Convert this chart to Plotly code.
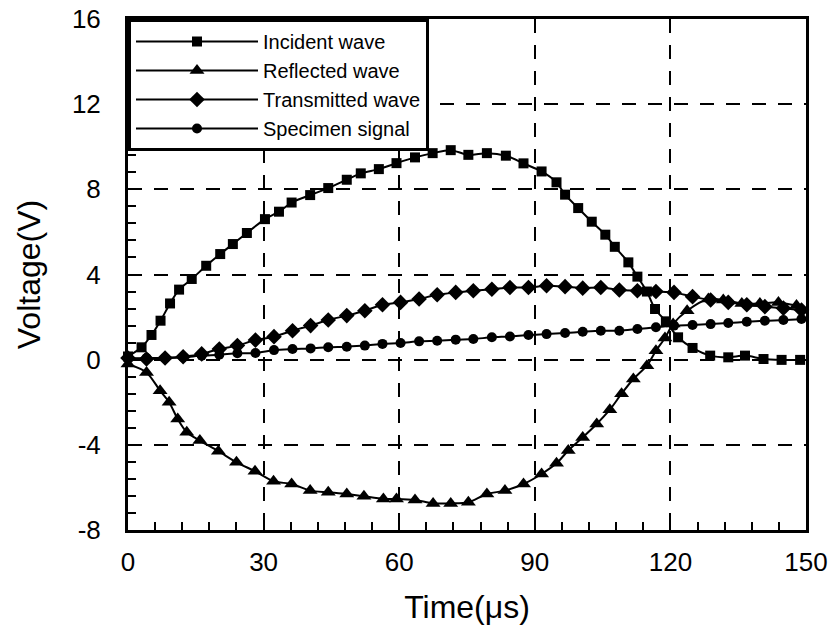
import plotly.graph_objects as go

# Incident wave (squares)
inc_t = [0, 3.0, 5.2, 7.2, 9.3, 11.3, 14.1, 17.3, 20.4, 23.2, 26.3, 30.3, 33.4, 36.2, 40.3,
         44.3, 48.4, 51.5, 55.5, 59.4, 63.5, 67.4, 71.4, 75.3, 79.4, 83.6, 87.5, 91.5, 94.8,
         96.7, 99.6, 102.6, 105.6, 107.7, 110.7, 112.7, 114.8, 116.6, 119.0, 121.7, 124.9,
         128.8, 132.8, 136.5, 140.6, 144.6, 148.7]
inc_v = [0.15, 0.58, 1.16, 1.83, 2.64, 3.29, 3.79, 4.41, 4.96, 5.43, 5.95, 6.6, 6.95, 7.38, 7.73,
         8.06, 8.45, 8.75, 8.95, 9.23, 9.5, 9.7, 9.84, 9.62, 9.7, 9.58, 9.22, 8.84, 8.33,
         7.75, 7.12, 6.48, 5.87, 5.3, 4.57, 3.9, 3.2, 2.38, 1.8, 1.05, 0.55,
         0.19, 0.11, 0.19, 0.03, -0.01, -0.01]

# Reflected wave (triangles)
ref_t = [0, 4.1, 7.1, 9.1, 11.0, 13.0, 15.9, 20.0, 24.0, 28.1, 32.2, 36.2, 40.3, 44.3, 48.4,
         52.2, 56.5, 59.4, 63.5, 67.5, 71.4, 75.3, 79.4, 83.4, 87.5, 91.5, 94.8, 97.4, 100.6,
         103.7, 106.6, 109.2, 111.8, 114.8, 116.8, 118.8, 120.6, 123.7, 128.4, 131.7, 135.8,
         139.8, 143.9, 147.9]
ref_v = [-0.2, -0.6, -1.46, -2.0, -2.79, -3.41, -3.8, -4.3, -4.82, -5.24, -5.71, -5.84, -6.15,
         -6.23, -6.31, -6.42, -6.54, -6.54, -6.59, -6.75, -6.75, -6.7, -6.31, -6.15, -5.84,
         -5.37, -4.87, -4.27, -3.65, -3.02, -2.35, -1.6, -0.91, -0.28, 0.42, 1.02, 1.68,
         2.3, 2.85, 2.8, 2.64, 2.64, 2.69, 2.54]

# Transmitted wave (diamonds) and specimen signal (circles) share sample times
ts_t = [0, 4.1, 8.2, 12.2, 16.3, 20.2, 24.2, 28.2, 32.3, 36.4, 40.4, 44.3, 48.4, 52.4, 56.3,
        60.3, 64.4, 68.4, 72.5, 76.4, 80.5, 84.5, 88.6, 92.6, 96.7, 100.6, 104.6, 108.7,
        112.7, 116.8, 120.8, 124.9, 128.9, 132.8, 136.9, 140.9, 145.0, 149.0]
tra_v = [0.08, 0.03, 0.08, 0.14, 0.27, 0.5, 0.66, 0.92, 1.08, 1.36, 1.6, 1.86, 2.07, 2.3, 2.58,
         2.69, 2.85, 3.05, 3.16, 3.24, 3.31, 3.39, 3.39, 3.47, 3.43, 3.36, 3.39, 3.27,
         3.24, 3.2, 3.16, 2.96, 2.8, 2.69, 2.58, 2.49, 2.42, 2.33]
spe_v = [0.06, 0.08, 0.08, 0.11, 0.19, 0.23, 0.3, 0.31, 0.45, 0.5, 0.53, 0.58, 0.61, 0.66, 0.74,
         0.78, 0.86, 0.89, 0.94, 0.97, 1.05, 1.09, 1.16, 1.2, 1.25, 1.31, 1.36, 1.36,
         1.44, 1.52, 1.6, 1.63, 1.67, 1.72, 1.78, 1.83, 1.86, 1.91]

# Tick labels
x_tickvals = [0, 30, 60, 90, 120, 150]
x_ticktext = ["0", "30", "60", "90", "120", "150"]
y_tickvals = [-8, -4, 0, 4, 8, 12, 16]
y_ticktext = ["-8", "-4", "0", "4", "8", "12", "16"]

series = [
    ("Incident wave", inc_t, inc_v, "square", 10),
    ("Reflected wave", ref_t, ref_v, "triangle-up", 13),
    ("Transmitted wave", ts_t, tra_v, "diamond", 12),
    ("Specimen signal", ts_t, spe_v, "circle", 10),
]

fig = go.Figure()
for name, t, v, sym, sz in series:
    fig.add_trace(go.Scatter(
        x=t, y=v, name=name, mode="lines+markers",
        line=dict(color="black", width=2, shape="spline", smoothing=0.8),
        marker=dict(symbol=sym, size=sz, color="black"),
        cliponaxis=False,
    ))

font_family = "Liberation Sans, Arial, sans-serif"
fig.update_layout(
    width=837, height=634,
    margin=dict(l=128, r=31, t=19, b=104),
    plot_bgcolor="white", paper_bgcolor="white",
    font=dict(family=font_family, color="black", size=26),
    legend=dict(
        x=0, y=1, xanchor="left", yanchor="top",
        bgcolor="white", bordercolor="black", borderwidth=3,
        font=dict(size=20, family=font_family),
        itemwidth=122, tracegroupgap=0,
    ),
    xaxis=dict(
        range=[0, 150], tickmode="array", tickvals=x_tickvals, ticktext=x_ticktext,
        showline=True, linecolor="black", linewidth=3, mirror=True,
        ticks="inside", ticklen=9, tickwidth=2, tickcolor="black",
        minor=dict(dtick=6, tick0=0, ticks="inside", ticklen=8, tickwidth=2, tickcolor="black", showgrid=False),
        showgrid=True, gridcolor="black", gridwidth=2, griddash="14px,12px",
        zeroline=False, automargin=False, ticklabeloverflow="allow",
        ticklabelstandoff=7,
        title=dict(text="Time(μs)", font=dict(size=32), standoff=20),
        tickfont=dict(size=26),
    ),
    yaxis=dict(
        range=[-8, 16], tickmode="array", tickvals=y_tickvals, ticktext=y_ticktext,
        showline=True, linecolor="black", linewidth=3, mirror=True,
        ticks="inside", ticklen=9, tickwidth=2, tickcolor="black",
        minor=dict(dtick=0.8, tick0=0, ticks="inside", ticklen=8, tickwidth=2, tickcolor="black", showgrid=False),
        showgrid=True, gridcolor="black", gridwidth=2, griddash="14px,12px",
        zeroline=False, automargin=False, ticklabeloverflow="allow",
        ticklabelstandoff=19,
        title=dict(text="Voltage(V)", font=dict(size=32), standoff=22),
        tickfont=dict(size=26),
    ),
)

fig.write_html("out.html", config={"displayModeBar": False},
               post_script="document.body.style.margin='0';")
